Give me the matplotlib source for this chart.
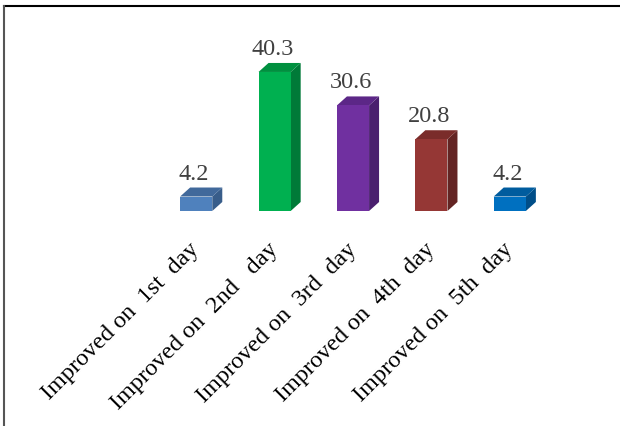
import numpy as np
import matplotlib.pyplot as plt
from matplotlib.patches import Polygon
from matplotlib.lines import Line2D

# ---------------------------------------------------------------------------
# data
# ---------------------------------------------------------------------------
categorias = ["Improved on  1st  day", "Improved on  2nd   day", "Improved on  3rd  day",
              "Improved on  4th  day", "Improved on  5th  day"]
valores = [4.2, 40.3, 30.6, 20.8, 4.2]
rotulos = ["4.2", "40.3", "30.6", "20.8", "4.2"]

cor_frente = ["#4F81BD", "#00B050", "#7030A0", "#953735", "#0070C0"]
cor_lado = ["#385D8A", "#007A38", "#4A1F6E", "#632423", "#004E88"]
cor_topo = ["#41699B", "#00903F", "#5C2787", "#7A2C2A", "#005C9E"]

plt.rcParams["font.family"] = ["Liberation Serif", "DejaVu Serif"]

fig = plt.figure(figsize=(6.2, 4.27), dpi=100)
ax = fig.add_axes([157 / 620, (427 - 212) / 427, 392 / 620, 172.5 / 427])

x = np.arange(len(valores))
largura = 0.41
# profundidade 3D em unidades de dado (~10 px para a direita, ~9 px para cima)
dx = 10 / 78.4
dy = 9 / 3.45

ax.bar(x, valores, width=largura, color=cor_frente, zorder=3)

for i, v in enumerate(valores):
    x0 = x[i] - largura / 2
    x1 = x[i] + largura / 2
    lado = Polygon([(x1, 0), (x1 + dx, dy), (x1 + dx, v + dy), (x1, v)],
                   closed=True, facecolor=cor_lado[i], edgecolor="none", zorder=2)
    topo = Polygon([(x0, v), (x0 + dx, v + dy), (x1 + dx, v + dy), (x1, v)],
                   closed=True, facecolor=cor_topo[i], edgecolor="none", zorder=2)
    ax.add_patch(lado)
    ax.add_patch(topo)
    ax.annotate(rotulos[i], (x[i], v), xytext=(-2, 13), textcoords="offset pixels",
                ha="center", va="bottom", fontsize=17.5, color="#404040")

ax.set_xlim(-0.5, 4.5)
ax.set_ylim(0, 50)
ax.set_yticks([])
ax.set_xticks(x)
ax.set_xticklabels(categorias, rotation=45, ha="right", va="center",
                   rotation_mode="anchor", fontsize=17.5, color="black")
ax.tick_params(axis="x", length=0, pad=25)
for s in ax.spines.values():
    s.set_visible(False)
ax.patch.set_alpha(0)

# moldura (só topo e esquerda aparecem no original)
fig.add_artist(Line2D([4 / 620, 1], [1 - 7 / 427, 1 - 7 / 427], color="black", lw=1.5))
fig.add_artist(Line2D([4 / 620, 4 / 620], [0, 1 - 7 / 427], color="#555555", lw=1.5))

fig.savefig("out.png", dpi=100)
